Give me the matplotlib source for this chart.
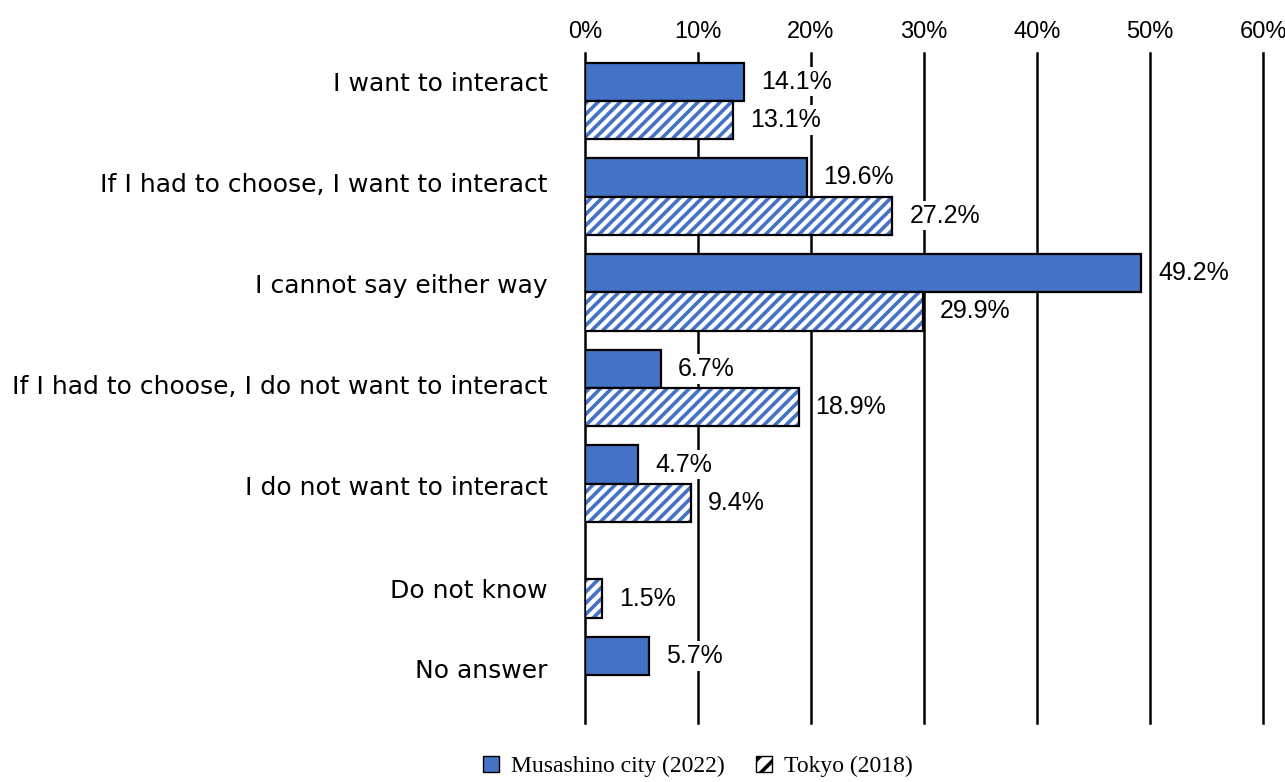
import matplotlib
matplotlib.use("Agg")
import matplotlib.pyplot as plt
from matplotlib.patches import Patch
import numpy as np

categories = [
    "I want to interact",
    "If I had to choose, I want to interact",
    "I cannot say either way",
    "If I had to choose, I do not want to interact",
    "I do not want to interact",
    "Do not know",
    "No answer",
]
musashino = [14.1, 19.6, 49.2, 6.7, 4.7, None, 5.7]
tokyo = [13.1, 27.2, 29.9, 18.9, 9.4, 1.5, None]
series_names = ["Musashino city (2022)", "Tokyo (2018)"]
xticks = [0, 10, 20, 30, 40, 50, 60]
# vertical anchor of each category caption
label_pos = [-0.2, 0.85, 1.91, 2.96, 4.02, 5.09, 5.93]

BLUE = "#4472C4"
plt.rcParams["hatch.linewidth"] = 2.6

fig = plt.figure(figsize=(12.85, 7.82), dpi=100)
ax = fig.add_axes([0.4553, 0.0754, 0.5276, 0.8568])

n = len(categories)
y = np.arange(n)
h = 0.4

num_font = ["Liberation Sans", "DejaVu Sans"]

def value_label(x, yc, v):
    ax.text(x + 1.5, yc, f"{v:.1f}%", va="center", ha="left",
            fontsize=18, family=num_font, zorder=4,
            bbox=dict(facecolor="white", edgecolor="none", pad=2))

for i in range(n):
    m = musashino[i]
    t = tokyo[i]
    if m is not None:
        ax.barh(y[i] - h / 2, m, height=h, color=BLUE, edgecolor="black",
                linewidth=1.6, zorder=3)
        value_label(m, y[i] - h / 2, m)
    if t is not None:
        ax.barh(y[i] + h / 2, t, height=h, color="white", edgecolor=BLUE,
                hatch="///", linewidth=0, zorder=3)
        ax.barh(y[i] + h / 2, t, height=h, color="none", edgecolor="black",
                linewidth=1.6, zorder=3)
        value_label(t, y[i] + h / 2, t)

ax.set_xlim(0, 60)
ax.set_ylim(n - 0.5, -0.5)
ax.set_xticks(xticks)
ax.set_xticklabels([f"{v}%" for v in xticks], family=num_font, fontsize=17)
ax.xaxis.tick_top()
ax.tick_params(axis="x", length=0, pad=7)
ax.set_yticks(label_pos)
ax.set_yticklabels(categories, fontsize=18, family="DejaVu Sans")
ax.tick_params(axis="y", length=0, pad=27)

for v in xticks:
    ax.axvline(v, color="black", linewidth=1.8, zorder=1, clip_on=False)
for s in ax.spines.values():
    s.set_visible(False)

handles = [
    Patch(facecolor=BLUE, edgecolor="black", linewidth=1.0),
    Patch(facecolor="white", edgecolor="black", hatch="//", linewidth=1.0),
]
leg = fig.legend(handles, series_names, loc="center",
                 bbox_to_anchor=(0.543, 0.02), ncol=2, frameon=False,
                 prop={"family": "Liberation Serif", "size": 17},
                 handlelength=0.7, handleheight=0.7, handletextpad=0.5,
                 columnspacing=1.3)

fig.savefig("out.png", dpi=100)
